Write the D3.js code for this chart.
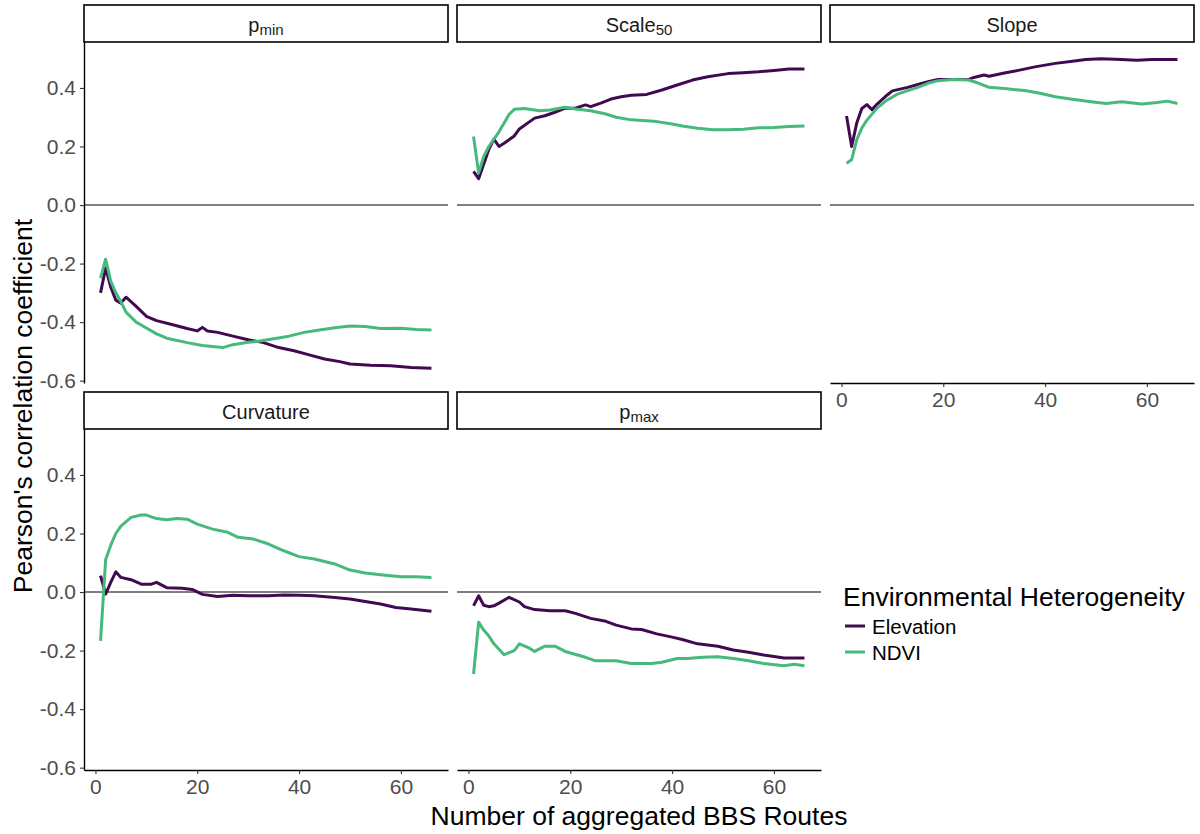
<!DOCTYPE html>
<html>
<head>
<meta charset="utf-8">
<script src="https://cdn.jsdelivr.net/npm/d3@7"></script>
<style>
  body { margin: 0; background: #fff; }
  svg { font-family: Arial, "Liberation Sans", sans-serif; }
</style>
</head>
<body>
<svg id="chart" width="1200" height="834"></svg>
<script>
// facet names (base + subscript) in facet_wrap order
var facetBase = ["p", "Scale", "Slope", "Curvature", "p"];
var facetSub = ["min", "50", "", "", "max"];
var seriesNames = ["Elevation", "NDVI"];
var xTicks = [0, 20, 40, 60];
var yTicks = [-0.6, -0.4, -0.2, 0, 0.2, 0.4];

// [number of aggregated routes, pearson r]
var pminElevation = [[1,-0.30],[2,-0.215],[3,-0.28],[4,-0.325],[5,-0.335],[6,-0.315],[8,-0.346],[10,-0.38],[12,-0.395],[15,-0.408],[18,-0.422],[20,-0.43],[21,-0.418],[22,-0.43],[24,-0.435],[27,-0.448],[30,-0.46],[33,-0.47],[36,-0.487],[39,-0.498],[42,-0.512],[45,-0.526],[48,-0.535],[50,-0.543],[54,-0.547],[58,-0.549],[62,-0.555],[66,-0.558]];
var pminNdvi = [[1,-0.25],[2,-0.185],[3,-0.26],[4,-0.30],[5,-0.33],[6,-0.366],[8,-0.40],[10,-0.42],[12,-0.44],[14,-0.455],[18,-0.47],[21,-0.48],[25,-0.487],[27,-0.477],[30,-0.469],[32,-0.465],[35,-0.457],[38,-0.448],[41,-0.435],[44,-0.427],[47,-0.419],[50,-0.413],[53,-0.415],[56,-0.422],[60,-0.421],[63,-0.425],[66,-0.427]];

var scaleElevation = [[1,0.115],[2,0.09],[3,0.14],[4,0.19],[5,0.225],[6,0.2],[7,0.211],[9,0.236],[10,0.26],[13,0.297],[15,0.305],[17,0.317],[19,0.331],[21,0.331],[23,0.342],[24,0.336],[26,0.348],[28,0.362],[30,0.37],[32,0.375],[35,0.378],[38,0.393],[41,0.41],[44,0.427],[47,0.438],[51,0.449],[54,0.452],[57,0.455],[60,0.46],[63,0.465],[66,0.465]];
var scaleNdvi = [[1,0.234],[2,0.11],[3,0.166],[4,0.2],[5,0.225],[6,0.25],[7,0.28],[8,0.31],[9,0.327],[11,0.33],[14,0.322],[16,0.325],[19,0.334],[21,0.328],[24,0.322],[27,0.311],[29,0.30],[32,0.291],[35,0.288],[37,0.285],[40,0.277],[42,0.27],[45,0.262],[48,0.257],[51,0.257],[54,0.259],[57,0.264],[60,0.265],[63,0.268],[66,0.27]];

var slopeElevation = [[1,0.304],[2,0.2],[3,0.28],[4,0.33],[5,0.343],[6,0.326],[7,0.345],[9,0.376],[10,0.39],[13,0.402],[15,0.412],[17,0.421],[19,0.429],[22,0.429],[25,0.429],[26,0.436],[28,0.444],[29,0.44],[32,0.451],[35,0.461],[38,0.472],[42,0.484],[45,0.49],[48,0.497],[51,0.5],[55,0.497],[58,0.495],[61,0.497],[66,0.497]];
var slopeNdvi = [[1,0.143],[2,0.155],[3,0.223],[4,0.263],[5,0.29],[7,0.331],[9,0.359],[11,0.379],[13,0.391],[15,0.402],[17,0.416],[19,0.425],[22,0.429],[25,0.427],[27,0.416],[29,0.402],[32,0.398],[36,0.391],[39,0.382],[42,0.37],[45,0.362],[49,0.353],[52,0.347],[55,0.353],[59,0.345],[62,0.35],[64,0.355],[66,0.347]];

var curvatureElevation = [[1,0.056],[2,-0.007],[3,0.033],[4,0.069],[5,0.05],[7,0.042],[9,0.027],[11,0.027],[12,0.033],[14,0.015],[17,0.013],[19,0.009],[21,-0.008],[24,-0.015],[27,-0.011],[30,-0.013],[34,-0.013],[37,-0.01],[40,-0.011],[43,-0.013],[47,-0.019],[50,-0.024],[53,-0.032],[56,-0.041],[59,-0.053],[62,-0.058],[66,-0.066]];
var curvatureNdvi = [[1,-0.167],[2,0.11],[3,0.16],[4,0.2],[5,0.225],[7,0.255],[9,0.263],[10,0.263],[12,0.251],[14,0.247],[16,0.251],[18,0.249],[20,0.232],[23,0.215],[26,0.204],[28,0.187],[31,0.181],[34,0.164],[37,0.141],[40,0.121],[43,0.113],[47,0.096],[50,0.075],[53,0.065],[56,0.059],[60,0.052],[63,0.052],[66,0.05]];

var pmaxElevation = [[1,-0.047],[2,-0.013],[3,-0.045],[4,-0.05],[5,-0.047],[6,-0.038],[8,-0.018],[10,-0.034],[11,-0.05],[13,-0.06],[16,-0.064],[19,-0.064],[21,-0.073],[24,-0.09],[27,-0.1],[29,-0.113],[32,-0.126],[34,-0.128],[37,-0.143],[40,-0.154],[42,-0.162],[45,-0.177],[49,-0.185],[52,-0.198],[55,-0.206],[58,-0.215],[62,-0.225],[66,-0.225]];
var pmaxNdvi = [[1,-0.28],[2,-0.103],[3,-0.13],[4,-0.15],[5,-0.177],[7,-0.214],[9,-0.2],[10,-0.177],[12,-0.192],[13,-0.203],[15,-0.185],[17,-0.185],[19,-0.203],[23,-0.223],[25,-0.235],[29,-0.235],[32,-0.244],[36,-0.244],[38,-0.24],[41,-0.227],[43,-0.227],[46,-0.223],[49,-0.221],[52,-0.227],[55,-0.235],[58,-0.244],[62,-0.252],[64,-0.247],[66,-0.252]];

var facetSeries = [
  [pminElevation, pminNdvi],
  [scaleElevation, scaleNdvi],
  [slopeElevation, slopeNdvi],
  [curvatureElevation, curvatureNdvi],
  [pmaxElevation, pmaxNdvi]
];

var colors = ["#410a50", "#46b97c"];

var marginLeft = 84, marginTop = 42,
    panelW = 364, panelH = 341,
    gapX = 9, gapY = 46, stripH = 37,
    nCol = 3;

var x = d3.scaleLinear().domain([-2.25, 69.25]).range([0, panelW]);
var y = d3.scaleLinear().domain([-0.608, 0.557]).range([panelH, 0]);

var line = d3.line()
    .x(function(d) { return x(d[0]); })
    .y(function(d) { return y(d[1]); });

var svg = d3.select("#chart");

var panels = svg.selectAll(".panel")
    .data(facetBase)
    .enter().append("g")
    .attr("class", "panel")
    .attr("transform", function(d, i) {
      var c = i % nCol, r = Math.floor(i / nCol);
      return "translate(" + (marginLeft + c * (panelW + gapX)) + "," + (marginTop + r * (panelH + gapY)) + ")";
    });

// strips
panels.append("rect")
    .attr("x", 0)
    .attr("y", -stripH)
    .attr("width", panelW)
    .attr("height", stripH)
    .attr("fill", "#fff")
    .attr("stroke", "#000")
    .attr("stroke-width", 1.6);

var stripText = panels.append("text")
    .attr("x", panelW / 2)
    .attr("y", -stripH / 2)
    .attr("dy", "0.4em")
    .attr("text-anchor", "middle")
    .attr("font-size", 20)
    .attr("fill", "#1a1a1a");
stripText.append("tspan").text(function(d) { return d; });
stripText.append("tspan")
    .attr("font-size", 15)
    .attr("dy", 3)
    .text(function(d, i) { return facetSub[i]; });

// zero reference line
panels.append("line")
    .attr("x1", 0)
    .attr("x2", panelW)
    .attr("y1", y(0))
    .attr("y2", y(0))
    .attr("stroke", "#000")
    .attr("stroke-width", 1.1);

panels.each(function(d, i) {
  var g = d3.select(this);
  g.selectAll(".series")
      .data(facetSeries[i])
      .enter().append("path")
      .attr("class", "series")
      .attr("d", line)
      .attr("fill", "none")
      .attr("stroke", function(s, k) { return colors[k]; })
      .attr("stroke-width", 3)
      .attr("stroke-linejoin", "round");

  var c = i % nCol;
  var isBottom = i + nCol >= facetBase.length;

  if (c === 0) {
    g.append("g")
        .attr("class", "axis")
        .call(d3.axisLeft(y).tickValues(yTicks).tickSize(4).tickPadding(4).tickSizeOuter(0)
          .tickFormat(function(v) { return v.toFixed(1); }));
  }
  if (isBottom) {
    g.append("g")
        .attr("class", "axis")
        .attr("transform", "translate(0," + panelH + ")")
        .call(d3.axisBottom(x).tickValues(xTicks).tickSize(4).tickPadding(5).tickSizeOuter(0));
  }
});

svg.selectAll(".axis").attr("font-family", null).attr("font-size", null);
svg.selectAll(".axis .domain").attr("stroke", "#000").attr("stroke-width", 1.4);
svg.selectAll(".axis .tick line").attr("stroke", "#333").attr("stroke-width", 1.1);
svg.selectAll(".axis .tick text")
    .attr("fill", "#4d4d4d")
    .attr("font-size", 21);

// axis titles
svg.append("text")
    .attr("transform", "translate(32," + (marginTop + (2 * panelH + gapY) / 2) + ") rotate(-90)")
    .attr("text-anchor", "middle")
    .attr("font-size", 26.5)
    .attr("fill", "#000")
    .text("Pearson's correlation coefficient");

svg.append("text")
    .attr("x", marginLeft + (3 * panelW + 2 * gapX) / 2)
    .attr("y", 825)
    .attr("text-anchor", "middle")
    .attr("font-size", 26.5)
    .attr("fill", "#000")
    .text("Number of aggregated BBS Routes");

// legend
var legend = svg.append("g").attr("transform", "translate(843,606)");
legend.append("text")
    .attr("font-size", 26.5)
    .attr("fill", "#000")
    .text("Environmental Heterogeneity");

var items = legend.selectAll(".item")
    .data(seriesNames)
    .enter().append("g")
    .attr("class", "item")
    .attr("transform", function(d, i) { return "translate(0," + (20 + i * 26) + ")"; });
items.append("line")
    .attr("x1", 2).attr("x2", 22)
    .attr("stroke", function(d, i) { return colors[i]; })
    .attr("stroke-width", 3);
items.append("text")
    .attr("x", 29)
    .attr("y", 8)
    .attr("font-size", 20.5)
    .attr("fill", "#000")
    .text(function(d) { return d; });
</script>
</body>
</html>
